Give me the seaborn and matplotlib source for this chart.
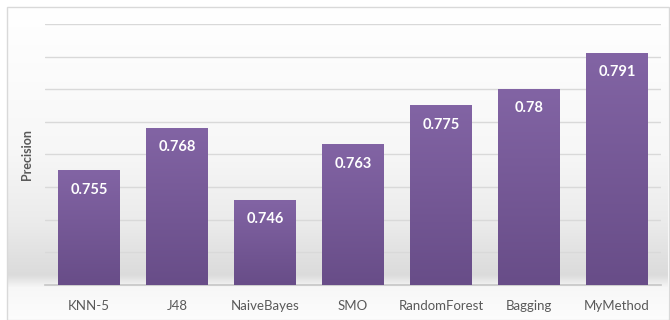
import numpy as np
import pandas as pd
import matplotlib
matplotlib.use("Agg")
import matplotlib.pyplot as plt
import seaborn as sns
from matplotlib.patches import Rectangle

methods = ["KNN-5", "J48", "NaiveBayes", "SMO", "RandomForest", "Bagging", "MyMethod"]
precision = [0.755, 0.768, 0.746, 0.763, 0.775, 0.78, 0.791]
value_labels = ["0.755", "0.768", "0.746", "0.763", "0.775", "0.78", "0.791"]

df = pd.DataFrame({"Method": methods, "Precision": precision})

sns.set_theme(style="white")
plt.rcParams['font.family'] = ['Lato', 'DejaVu Sans']

fig = plt.figure(figsize=(6.7, 3.2), dpi=100)
fig.patch.set_facecolor("white")
fig.patches.append(Rectangle((7/670, 0/320), 662/670, 313/320, transform=fig.transFigure,
                             fill=False, edgecolor="#d9d9d9", lw=1.0, zorder=0))
bg = fig.add_axes([8/670, 1/320, 660/670, 311/320], zorder=-1)
ys = np.linspace(0, 1, 300)
g = np.interp(ys, [0, 0.45, 0.70, 0.80, 0.86, 0.90, 1.0], [1.0, 0.97, 0.92, 0.88, 0.86, 0.97, 0.99])
grad = np.repeat(g[:, None, None], 3, axis=2)
bg.imshow(grad, aspect="auto", extent=[0, 1, 0, 1])
bg.set_axis_off()

ax = fig.add_axes([45/670, 1 - 285/320, 616/670, (285 - 24)/320])
ax.set_facecolor("none")
sns.barplot(data=df, x="Method", y="Precision", ax=ax, width=0.70,
            color="#7a5c9c", saturation=1, zorder=3)
ymin, ymax = 0.72, 0.80
ax.set_ylim(ymin, ymax)
ax.set_yticks(np.arange(0.72, 0.8001, 0.01))
ax.set_yticklabels([])
ax.yaxis.grid(True, color="#d9d9d9", lw=1.0, zorder=0)
ax.set_axisbelow(True)
for s in ["top", "right", "left"]:
    ax.spines[s].set_visible(False)
ax.spines["bottom"].set_color("#c8c8c8")
ax.tick_params(axis="x", length=0, pad=11, labelsize=9.5, labelcolor="#595959")
ax.tick_params(axis="y", length=0)
ax.set_xlabel("")
ax.set_ylabel("Precision", fontsize=9, fontweight="bold", color="#595959", labelpad=5)

cmap = matplotlib.colors.LinearSegmentedColormap.from_list("pg", ["#684d88", "#8264a4"])
for p in ax.patches:
    x0 = p.get_x()
    w, h = p.get_width(), p.get_height()
    top = p.get_y() + h
    ax.imshow(np.linspace(0, 1, 100)[:, None], cmap=cmap, aspect="auto",
              extent=[x0, x0 + w, ymin, top], origin="lower", zorder=3)
    p.set_visible(False)
ax.set_xlim(-0.5, len(methods) - 0.5)
ax.set_ylim(ymin, ymax)

for i, (v, lab) in enumerate(zip(precision, value_labels)):
    ax.annotate(lab, (i, v), xytext=(0, -19), textcoords="offset pixels",
                ha="center", va="center", color="white", fontsize=10.5, fontweight="bold", zorder=5)

fig.savefig("out.png", dpi=100)
